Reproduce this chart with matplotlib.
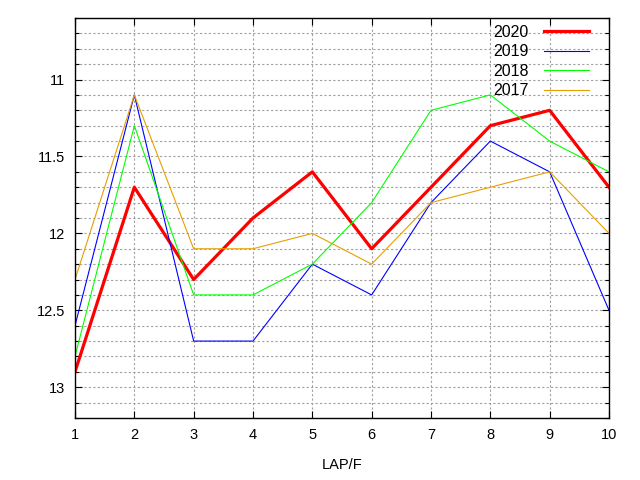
"""
lap times per year, gnuplot-like look
"""
import numpy as np
import matplotlib
matplotlib.use("Agg")
import matplotlib.pyplot as plt
from matplotlib.ticker import MultipleLocator

laps = [1, 2, 3, 4, 5, 6, 7, 8, 9, 10]
y2020 = [12.9, 11.7, 12.3, 11.9, 11.6, 12.1, 11.7, 11.3, 11.2, 11.7]
y2019 = [12.6, 11.1, 12.7, 12.7, 12.2, 12.4, 11.8, 11.4, 11.6, 12.5]
y2018 = [12.8, 11.3, 12.4, 12.4, 12.2, 11.8, 11.2, 11.1, 11.4, 11.6]
y2017 = [12.3, 11.1, 12.1, 12.1, 12.0, 12.2, 11.8, 11.7, 11.6, 12.0]
ytick_vals = [11, 11.5, 12, 12.5, 13]
ytick_labels = ["11", "11.5", "12", "12.5", "13"]

plt.rcParams['font.family'] = ['Liberation Sans', 'DejaVu Sans']

fig = plt.figure(figsize=(6.4, 4.8), dpi=100)
ax = fig.add_axes([75 / 640, 62 / 480, 534 / 640, 400 / 480])

ax.plot(laps, y2020, color="#ff0000", lw=2.3, label="2020")
ax.plot(laps, y2019, color="#0000ff", lw=0.8, label="2019")
ax.plot(laps, y2018, color="#00ff00", lw=0.8, label="2018")
ax.plot(laps, y2017, color="#e69f00", lw=0.8, label="2017")

ax.set_xlim(1, 10)
ax.set_ylim(13.2, 10.6)
ax.set_xticks(laps)
ax.set_yticks(ytick_vals)
ax.set_yticklabels(ytick_labels)
ax.yaxis.set_minor_locator(MultipleLocator(0.1))

ax.grid(True, which="both", axis="y", color="#a0a0a0", ls=(0, (2, 2)), lw=0.8)
ax.grid(True, which="major", axis="x", color="#a0a0a0", ls=(0, (2, 2)), lw=0.8)
ax.set_axisbelow(True)

ax.tick_params(which="both", direction="in", top=True, right=True,
               labelsize=10.5, width=0.8, colors="black")
ax.tick_params(which="major", length=5, pad=7)
ax.tick_params(which="minor", length=3)
for s in ax.spines.values():
    s.set_linewidth(1.0)

ax.set_xlabel("LAP/F", fontsize=10.5, labelpad=12)

ax.legend(loc="upper right", frameon=False, markerfirst=False,
          fontsize=11.5, handlelength=2.8, labelspacing=0.28,
          borderaxespad=0.2, bbox_to_anchor=(0.98, 1.007), handletextpad=0.95)

fig.savefig("out.png", dpi=100)
